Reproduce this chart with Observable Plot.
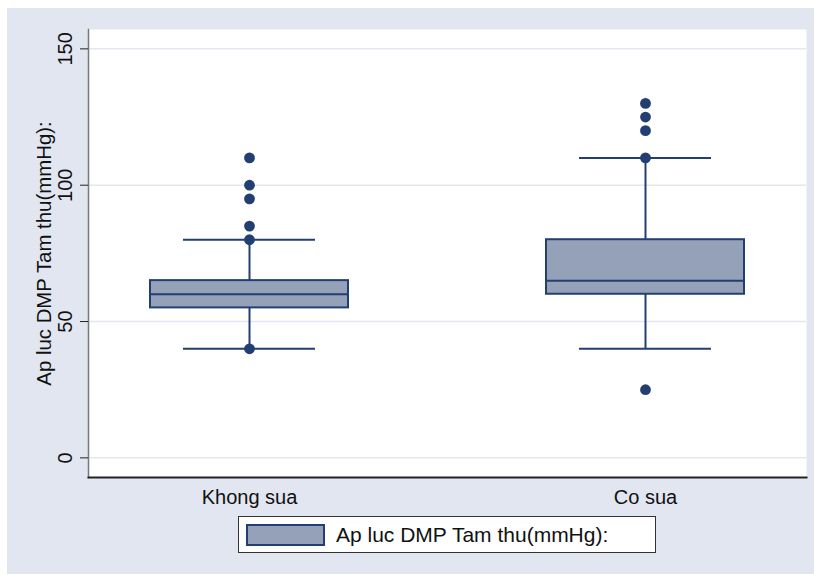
<!DOCTYPE html>
<html>
<head>
<meta charset="utf-8">
<script src="https://cdn.jsdelivr.net/npm/d3@7"></script>
<script src="https://cdn.jsdelivr.net/npm/@observablehq/plot@0.6"></script>
<style>
  html, body { margin: 0; padding: 0; background: #ffffff; }
  #fig { position: absolute; left: 7px; top: 8px; width: 807px; height: 566px; background: #e2e6f0; font-family: "Liberation Sans", Arial, sans-serif; }
  #legend { position: absolute; left: 231px; top: 508px; width: 418px; height: 37px; background: #fff; border: 1px solid #333; box-sizing: border-box; display: flex; align-items: center; }
  #legend .sw { margin-left: 7px; width: 79px; height: 22px; background: #94a1b8; border: 2px solid #233f72; box-sizing: border-box; }
  #legend .lb { margin-left: 11px; font-size: 21px; color: #111; }
</style>
</head>
<body>
<div id="fig"><div id="chart"></div><div id="legend"><div class="sw"></div><div class="lb"></div></div></div>
<script>
const categories = ["Khong sua", "Co sua"];
const q1 = [55, 60];
const median = [60, 65];
const q3 = [65, 80];
const whiskerLow = [40, 40];
const whiskerHigh = [80, 110];
const outlierGroup = ["Khong sua", "Khong sua", "Khong sua", "Khong sua", "Khong sua", "Khong sua",
                      "Co sua", "Co sua", "Co sua", "Co sua", "Co sua"];
const outlierValue = [110, 100, 95, 85, 80, 40,
                      130, 125, 120, 110, 25];
const yTicks = [0, 50, 100, 150];
const yTitle = "Ap luc DMP Tam thu(mmHg):";
const legendLabel = "Ap luc DMP Tam thu(mmHg):";

const boxes = categories.map((c, i) => ({cat: c, q1: q1[i], med: median[i], q3: q3[i], lo: whiskerLow[i], hi: whiskerHigh[i]}));
const outliers = outlierValue.map((v, i) => ({cat: outlierGroup[i], v}));

const navy = "#233f72";
const fill = "#94a1b8";

const chart = Plot.plot({
  width: 807,
  height: 502,
  marginLeft: 81,
  marginRight: 8,
  marginTop: 21,
  marginBottom: 33,
  style: {fontFamily: "Liberation Sans, Arial, sans-serif", background: "transparent", overflow: "visible"},
  x: {type: "band", domain: categories, paddingInner: 0.499, paddingOuter: 0.154, align: 0.5, axis: null},
  y: {domain: [-7.2, 157.1], axis: null},
  marks: [
    Plot.frame({fill: "white", stroke: "none"}),
    Plot.gridY(yTicks, {stroke: "#e3e7f0", strokeOpacity: 1, strokeWidth: 1.5}),
    // whiskers
    Plot.ruleX(boxes, {x: "cat", y1: "lo", y2: "q1", stroke: navy, strokeWidth: 2}),
    Plot.ruleX(boxes, {x: "cat", y1: "q3", y2: "hi", stroke: navy, strokeWidth: 2}),
    Plot.tickY(boxes, {x: "cat", y: "lo", stroke: navy, strokeWidth: 2, insetLeft: 33, insetRight: 33}),
    Plot.tickY(boxes, {x: "cat", y: "hi", stroke: navy, strokeWidth: 2, insetLeft: 33, insetRight: 33}),
    // box
    Plot.barY(boxes, {x: "cat", y1: "q1", y2: "q3", fill: fill, stroke: navy, strokeWidth: 2}),
    Plot.tickY(boxes, {x: "cat", y: "med", stroke: navy, strokeWidth: 2}),
    // outliers
    Plot.dot(outliers, {x: "cat", y: "v", r: 5.4, fill: navy, stroke: "none"}),
    // axis lines
    Plot.frame({anchor: "left", stroke: "#777", strokeWidth: 1.5}),
    Plot.frame({anchor: "bottom", stroke: "#222", strokeWidth: 2}),
    Plot.axisY(yTicks, {tickSize: 8, tickFormat: () => "", stroke: "#222", strokeWidth: 1}),
    Plot.text(yTicks, {y: d => d, frameAnchor: "left", dx: -23, rotate: -90, textAnchor: "middle", lineAnchor: "middle", fontSize: 20, fill: "#111", text: d => String(d)}),
    Plot.text([yTitle], {frameAnchor: "left", dx: -44, rotate: -90, textAnchor: "middle", lineAnchor: "middle", fontSize: 20.4, fill: "#111"}),
    Plot.text(categories, {x: d => d, frameAnchor: "bottom", dy: 12, lineAnchor: "top", fontSize: 20, fill: "#111"})
  ]
});
document.getElementById("chart").appendChild(chart);
document.querySelector("#legend .lb").textContent = legendLabel;
</script>
</body>
</html>
